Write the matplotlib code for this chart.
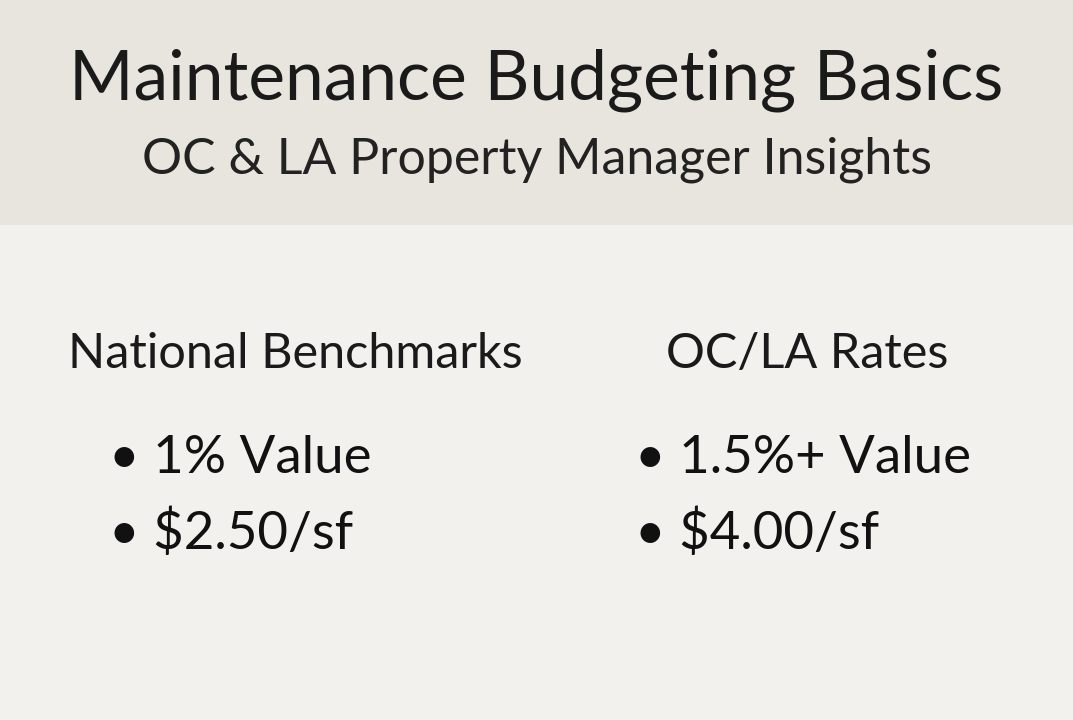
import matplotlib.pyplot as plt
from matplotlib.patches import Rectangle

title = "Maintenance Budgeting Basics"
subtitle = "OC & LA Property Manager Insights"
headers = ["National Benchmarks", "OC/LA Rates"]
bullets = [["1% Value", "$2.50/sf"], ["1.5%+ Value", "$4.00/sf"]]

header_x = [0.275, 0.752]
bullet_x = [0.102, 0.592]
bullet_y = [0.363, 0.26]

plt.rcParams['font.family'] = ['Lato', 'DejaVu Sans']
fig = plt.figure(figsize=(10.73, 7.2), dpi=100)
fig.patch.set_facecolor('#f2f1ed')
fig.add_artist(Rectangle((0, 1 - 225 / 720), 1, 225 / 720, transform=fig.transFigure,
                         facecolor='#e8e5df', edgecolor='none'))

fig.text(0.5, 0.888, title, ha='center', va='center', fontsize=50, color='#1a1a1a')
fig.text(0.5, 0.778, subtitle, ha='center', va='center', fontsize=36, color='#222222')

for i, h in enumerate(headers):
    fig.text(header_x[i], 0.508, h, ha='center', va='center', fontsize=35, color='#1a1a1a')
    for j, b in enumerate(bullets[i]):
        fig.text(bullet_x[i], bullet_y[j], "\u2022 " + b, ha='left', va='center',
                 fontsize=38, color='#111111')

fig.savefig('out.png', dpi=100, facecolor=fig.get_facecolor())
